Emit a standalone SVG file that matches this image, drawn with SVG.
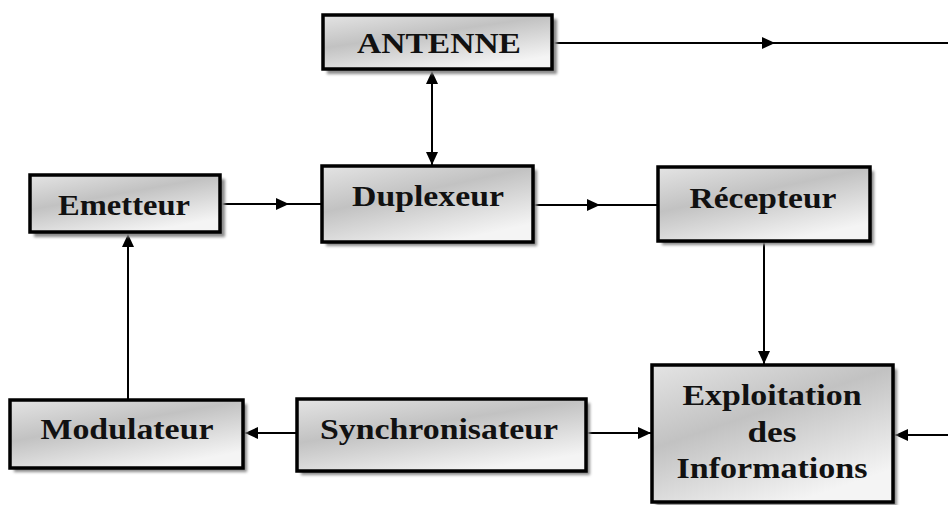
<svg xmlns="http://www.w3.org/2000/svg" width="948" height="505" viewBox="0 0 948 505">
<style>
.box{fill:url(#g);stroke:#000;stroke-width:3.5}
.sh{fill:#8a8a8a;filter:url(#blur)}
.t{font-family:"Liberation Serif","Times New Roman",serif;font-weight:bold;font-size:30px;fill:#111;text-anchor:middle}
.ln{stroke:#000;stroke-width:2;fill:none}
</style>
<defs>
<linearGradient id="g" x1="0" y1="0" x2="0.6" y2="1">
<stop offset="0" stop-color="#e4e4e4"/>
<stop offset="0.45" stop-color="#c2c2c2"/>
<stop offset="1" stop-color="#f4f4f4"/>
</linearGradient>
<filter id="blur" x="-10%" y="-10%" width="120%" height="130%"><feGaussianBlur stdDeviation="1.5"/></filter>
<marker id="ah" markerUnits="userSpaceOnUse" markerWidth="14" markerHeight="12" refX="13" refY="6" orient="auto-start-reverse">
<path d="M0,0 L13,6 L0,12 z" fill="#000"/>
</marker>
</defs>

<g id="connectors">
<line class="ln" x1="552" y1="43" x2="775" y2="43" marker-end="url(#ah)"/>
<line class="ln" x1="770" y1="43" x2="948" y2="43"/>
<line class="ln" x1="432" y1="71" x2="432" y2="165" marker-start="url(#ah)" marker-end="url(#ah)"/>
<line class="ln" x1="221" y1="204" x2="289" y2="204" marker-end="url(#ah)"/>
<line class="ln" x1="285" y1="204" x2="322" y2="204"/>
<line class="ln" x1="533" y1="205" x2="600" y2="205" marker-end="url(#ah)"/>
<line class="ln" x1="596" y1="205" x2="658" y2="205"/>
<line class="ln" x1="764" y1="242" x2="764" y2="364" marker-end="url(#ah)"/>
<line class="ln" x1="128" y1="400" x2="128" y2="234" marker-end="url(#ah)"/>
<line class="ln" x1="297" y1="433" x2="245" y2="433" marker-end="url(#ah)"/>
<line class="ln" x1="586" y1="433" x2="651" y2="433" marker-end="url(#ah)"/>
<line class="ln" x1="948" y1="435" x2="895" y2="435" marker-end="url(#ah)"/>
</g>

<g id="antenne">
<rect class="sh" x="327" y="19" width="230" height="55"/>
<rect class="box" x="323" y="15" width="229" height="54"/>
<text class="t" x="439" y="53" textLength="164" lengthAdjust="spacingAndGlyphs">ANTENNE</text>
</g>

<g id="emetteur">
<rect class="sh" x="34" y="179" width="191" height="58"/>
<rect class="box" x="30" y="175" width="190" height="57"/>
<text class="t" x="124" y="215" textLength="132" lengthAdjust="spacingAndGlyphs">Emetteur</text>
</g>

<g id="duplexeur">
<rect class="sh" x="326" y="170" width="211" height="76"/>
<rect class="box" x="322" y="166" width="211" height="76"/>
<text class="t" x="428" y="206" textLength="152" lengthAdjust="spacingAndGlyphs">Duplexeur</text>
</g>

<g id="recepteur">
<rect class="sh" x="662" y="171" width="212" height="74"/>
<rect class="box" x="658" y="167" width="212" height="74"/>
<text class="t" x="763" y="208" textLength="147" lengthAdjust="spacingAndGlyphs">Récepteur</text>
</g>

<g id="modulateur">
<rect class="sh" x="14" y="404" width="233" height="68"/>
<rect class="box" x="10" y="400" width="233" height="68"/>
<text class="t" x="127" y="439" textLength="173" lengthAdjust="spacingAndGlyphs">Modulateur</text>
</g>

<g id="synchronisateur">
<rect class="sh" x="301" y="403" width="289" height="72"/>
<rect class="box" x="297" y="399" width="289" height="72"/>
<text class="t" x="439" y="439" textLength="238" lengthAdjust="spacingAndGlyphs">Synchronisateur</text>
</g>

<g id="exploitation">
<rect class="sh" x="656" y="369" width="241" height="137"/>
<rect class="box" x="652" y="365" width="241" height="137"/>
<text class="t" x="772" y="405" textLength="179" lengthAdjust="spacingAndGlyphs">Exploitation</text>
<text class="t" x="772" y="442" textLength="49" lengthAdjust="spacingAndGlyphs">des</text>
<text class="t" x="772" y="478" textLength="191" lengthAdjust="spacingAndGlyphs">Informations</text>
</g>
</svg>
